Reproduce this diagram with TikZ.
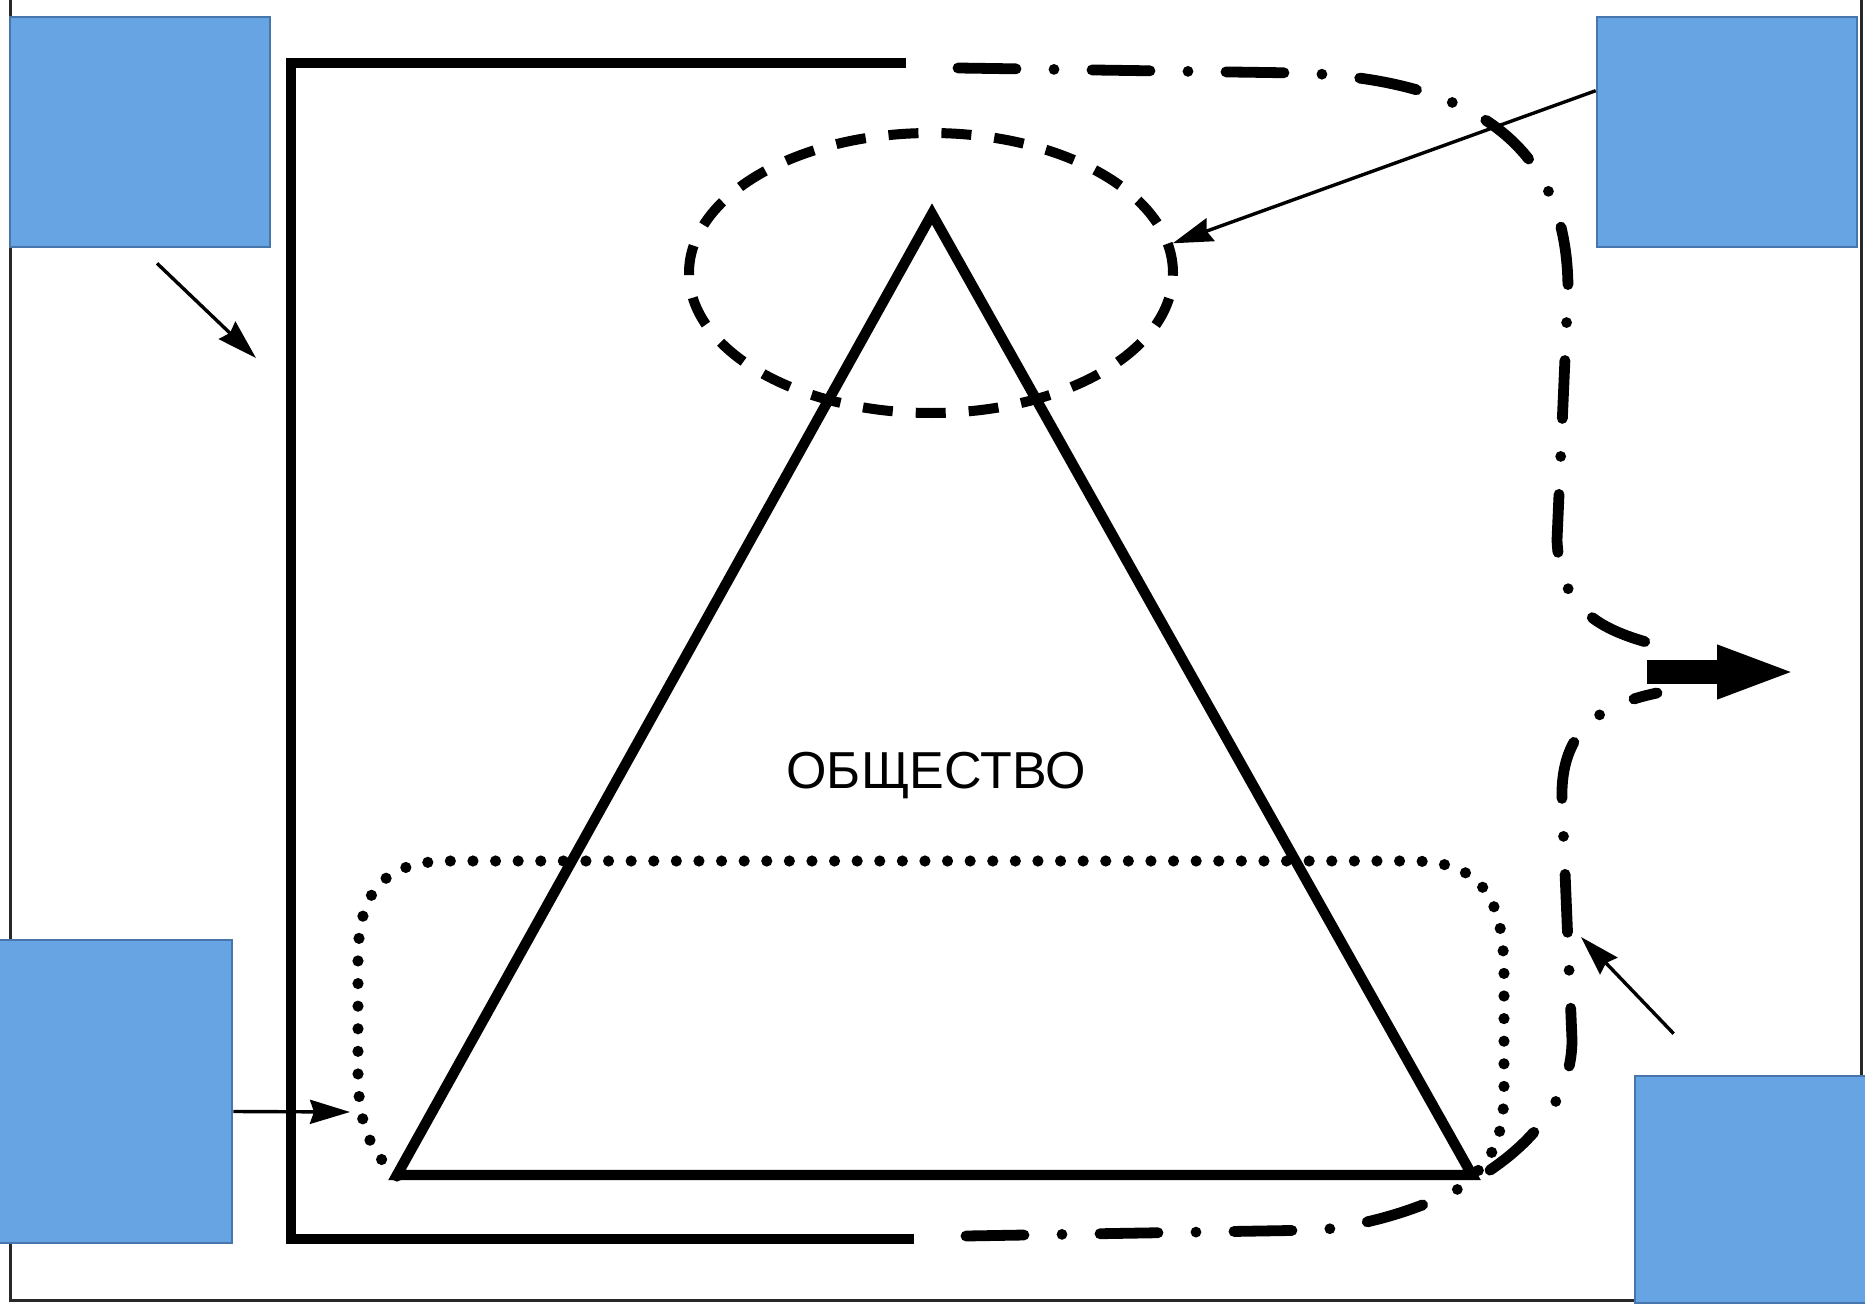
\documentclass[tikz,border=0pt]{standalone}
\usepackage{fontspec}
\setmainfont{Liberation Sans}
\usetikzlibrary{arrows.meta,shapes.geometric,calc}

\begin{document}
\begin{tikzpicture}[x=0.5pt,y=0.5pt,yscale=-1,xscale=1,
	box/.style={draw={rgb, 255:red, 70; green, 118; blue, 172 },fill={rgb, 255:red, 102; green, 164; blue, 228 },line width=1.3pt,minimum width=130pt,inner sep=0pt},
	heavy/.style={line width=5.2pt},
	dashdot/.style={line width=5.4pt,line cap=round,dash pattern={on 29pt off 19pt on 0pt off 19pt}},
	pointer/.style={line width=1.7pt,-{Stealth[length=20pt,width=12pt,inset=2pt]}}]
		\useasboundingbox (0,0) rectangle (1865,1311);
		
		%Shape: Frame
		\draw  [line width=1.5pt,color={rgb, 255:red, 40; green, 40; blue, 40 }]  (10,-5) -- (10,1300) -- (1861,1300) -- (1861,-5) ;
		%Straight Lines: bracket
		\draw  [heavy]  (906,63) -- (291,63) -- (291,1239) -- (914,1239) ;
		%Curve Lines: brace, upper half
		\draw  [dashdot]  (958,68) -- (1300,73) .. controls (1480,80) and (1568,150) .. (1568,290) -- (1557,540) .. controls (1560,610) and (1600,630) .. (1657,645) ;
		%Curve Lines: brace, lower half
		\draw  [dashdot]  (966,1236) -- (1320,1230) .. controls (1450,1215) and (1572,1140) .. (1572,1040) -- (1562,800) .. controls (1560,730) and (1600,705) .. (1657,693) ;
		%Shape: Ellipse
		\node  [ellipse,draw,line width=5pt,dash pattern={on 15pt off 11.5pt},minimum width=242pt,minimum height=140pt,inner sep=0pt] (elite) at (931,273) {};
		%Shape: Rounded Box (dotted)
		\draw  [line width=5.6pt,line cap=round,dash pattern={on 0pt off 11.3pt}]  (397,1176) .. controls (368,1150) and (358,1120) .. (358,1070) -- (358,960) .. controls (358,890) and (385,861) .. (450,861) -- (1410,861) .. controls (1480,861) and (1504,895) .. (1504,975) -- (1504,1090) .. controls (1504,1130) and (1495,1158) .. (1472,1176) ;
		%Shape: Triangle
		\draw  [heavy]  (932,214) -- (397,1175) -- (1472,1175) -- cycle ;
		
		% Text Node
		\node  [anchor=base,font=\fontsize{26}{30}\selectfont] (society) at (936,788) {ОБЩЕСТВО};
		
		%Shape: Rectangle
		\node  [box,minimum height=115pt] (tl) at (140,132) {};
		%Shape: Rectangle
		\node  [box,minimum height=115pt] (tr) at (1727,132) {};
		%Shape: Rectangle
		\node  [box,minimum height=151.5pt] (bl) at (102,1091.5) {};
		%Shape: Rectangle
		\node  [box,minimum height=113.5pt] (br) at (1765,1189.5) {};
		
		\coordinate (tlfrom) at ($(tl.south)+(17,15)$);
		\coordinate (barpoint) at (256,358);
		\coordinate (massleft) at (350,1112);
		\coordinate (brfrom) at ($(br.north west)+(40,-41)$);
		\coordinate (bracepoint) at (1581,937);
		\coordinate (outfrom) at (1647,672);
		\coordinate (outto) at (1797,672);
		
		%Straight Lines [arrows]
		\draw  [pointer]  (tlfrom) -- (barpoint) ;
		\draw  [pointer]  ($(tr.north west)+(0,75)$) -- (elite.7) ;
		\draw  [pointer]  ($(bl.east)+(0,20)$) -- (massleft) ;
		\draw  [pointer]  (brfrom) -- (bracepoint) ;
		%Shape: Thick Arrow
		\draw  [line width=12pt,-{Triangle[length=40pt,width=24pt]}]  (outfrom) -- (outto) ;
	\end{tikzpicture}
\end{document}
